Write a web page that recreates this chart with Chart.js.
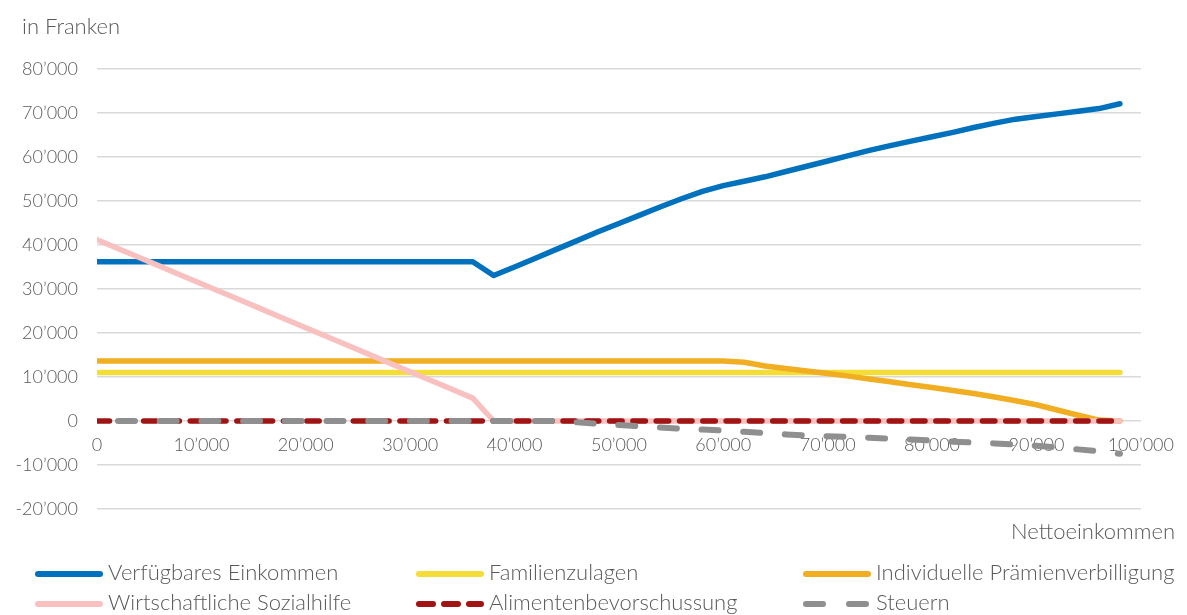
<!DOCTYPE html>
<html lang="de">
<head>
<meta charset="utf-8">
<title>Verfügbares Einkommen nach Nettoeinkommen</title>
<script src="https://cdn.jsdelivr.net/npm/chart.js@4/dist/chart.umd.min.js"></script>
<style>
  html, body { margin: 0; padding: 0; background: #ffffff; }
  #wrap { width: 1187px; height: 615px; position: relative; }
</style>
</head>
<body>
<div id="wrap"><canvas id="chart" width="1187" height="615"></canvas></div>
<script>
// Nettoeinkommen (Franken), in Schritten von 2'000
const incomes = [
  0, 2000, 4000, 6000, 8000, 10000, 12000, 14000, 16000, 18000,
  20000, 22000, 24000, 26000, 28000, 30000, 32000, 34000, 36000, 38000,
  40000, 42000, 44000, 46000, 48000, 50000, 52000, 54000, 56000, 58000,
  60000, 62000, 64000, 66000, 68000, 70000, 72000, 74000, 76000, 78000,
  80000, 82000, 84000, 86000, 88000, 90000, 92000, 94000, 96000, 98000
];

const verfuegbaresEinkommen = [
  36200, 36200, 36200, 36200, 36200, 36200, 36200, 36200, 36200, 36200,
  36200, 36200, 36200, 36200, 36200, 36200, 36200, 36200, 36200, 33050,
  35000, 37000, 39000, 41000, 43000, 44900, 46800, 48700, 50500, 52200,
  53500, 54500, 55500, 56700, 57900, 59100, 60300, 61500, 62600, 63600,
  64600, 65600, 66700, 67700, 68600, 69200, 69800, 70400, 71000, 72100
];

const familienzulagen = [
  11000, 11000, 11000, 11000, 11000, 11000, 11000, 11000, 11000, 11000,
  11000, 11000, 11000, 11000, 11000, 11000, 11000, 11000, 11000, 11000,
  11000, 11000, 11000, 11000, 11000, 11000, 11000, 11000, 11000, 11000,
  11000, 11000, 11000, 11000, 11000, 11000, 11000, 11000, 11000, 11000,
  11000, 11000, 11000, 11000, 11000, 11000, 11000, 11000, 11000, 11000
];

const praemienverbilligung = [
  13650, 13650, 13650, 13650, 13650, 13650, 13650, 13650, 13650, 13650,
  13650, 13650, 13650, 13650, 13650, 13650, 13650, 13650, 13650, 13650,
  13650, 13650, 13650, 13650, 13650, 13650, 13650, 13650, 13650, 13650,
  13650, 13350, 12500, 11950, 11350, 10800, 10200, 9550, 8900, 8250,
  7600, 6950, 6250, 5450, 4600, 3700, 2500, 1300, 200, 0
];

const sozialhilfe = [
  41200, 39200, 37200, 35200, 33200, 31200, 29200, 27200, 25200, 23200,
  21200, 19200, 17200, 15200, 13200, 11200, 9200, 7200, 5200, 0,
  0, 0, 0, 0, 0, 0, 0, 0, 0, 0,
  0, 0, 0, 0, 0, 0, 0, 0, 0, 0,
  0, 0, 0, 0, 0, 0, 0, 0, 0, 0
];

const alimentenbevorschussung = [
  0, 0, 0, 0, 0, 0, 0, 0, 0, 0,
  0, 0, 0, 0, 0, 0, 0, 0, 0, 0,
  0, 0, 0, 0, 0, 0, 0, 0, 0, 0,
  0, 0, 0, 0, 0, 0, 0, 0, 0, 0,
  0, 0, 0, 0, 0, 0, 0, 0, 0, 0
];

const steuern = [
  0, 0, 0, 0, 0, 0, 0, 0, 0, 0,
  0, 0, 0, 0, 0, 0, 0, 0, 0, 0,
  0, 0, 0, -300, -650, -900, -1200, -1500, -1750, -1950,
  -2150, -2450, -2750, -3050, -3300, -3450, -3600, -3800, -4000, -4200,
  -4450, -4700, -4900, -5100, -5350, -5650, -6000, -6450, -6900, -7450
];

const seriesLabels = [
  'Verfügbares Einkommen',
  'Familienzulagen',
  'Individuelle Prämienverbilligung',
  'Wirtschaftliche Sozialhilfe',
  'Alimentenbevorschussung',
  'Steuern'
];

const xTicks = [0, 10000, 20000, 30000, 40000, 50000, 60000, 70000, 80000, 90000, 100000];
const yTicks = [-20000, -10000, 0, 10000, 20000, 30000, 40000, 50000, 60000, 70000, 80000];

const yAxisTitle = 'in Franken';
const xAxisTitle = 'Nettoeinkommen';

// ---- styling ----
const FONT = 'Lato, "DejaVu Sans", sans-serif';
const TEXT = '#595959';
const GRID = '#d9d9d9';
const LABEL_FONT = '300 22px ' + FONT;
const TICK_FONT = { family: FONT, size: 18, weight: '300' };

function fmt(v) {
  const s = String(Math.abs(v)).replace(/\B(?=(\d{3})+(?!\d))/g, '\u2019');
  return (v < 0 ? '-' : '') + s;
}

function points(values) {
  return values.map((v, i) => ({ x: incomes[i], y: v }));
}

const colors = ['#0071bc', '#f3dd36', '#f1ae22', '#f9c0c0', '#a01414', '#8f8f8f'];
const widths = [5.5, 5.5, 5.5, 5.5, 5.5, 6];
const dashes = [[], [], [], [], [12.5, 10.8], [17, 24.7]];
const dashOffsets = [0, 0, 0, 0, 0, 20.7];
const legendDashes = [[], [], [], [], [14, 11], [17, 26]];
const seriesValues = [
  verfuegbaresEinkommen, familienzulagen, praemienverbilligung,
  sozialhilfe, alimentenbevorschussung, steuern
];

const datasets = seriesValues.map((vals, i) => ({
  label: seriesLabels[i],
  data: points(vals),
  borderColor: colors[i],
  backgroundColor: colors[i],
  borderWidth: widths[i],
  borderDash: dashes[i],
  borderDashOffset: dashOffsets[i],
  borderCapStyle: 'round',
  borderJoinStyle: 'round',
  pointRadius: 0,
  pointHoverRadius: 0,
  tension: 0,
  fill: false,
  // later series are painted on top
  order: seriesValues.length - i
}));

// Axis titles and the three-column legend underneath the plot
const annotations = {
  id: 'annotations',
  afterDraw(chart) {
    const ctx = chart.ctx;
    ctx.save();
    ctx.fillStyle = TEXT;
    ctx.font = LABEL_FONT;
    ctx.textBaseline = 'middle';
    ctx.textAlign = 'left';
    ctx.fillText(yAxisTitle, 22, 27);
    ctx.textAlign = 'right';
    ctx.fillText(xAxisTitle, 1175, 532);

    const colX = [35, 416, 803];
    const rowY = [574, 604];
    const lineLen = 68;
    chart.data.datasets.forEach((ds, i) => {
      const x = colX[i % 3];
      const y = rowY[Math.floor(i / 3)];
      ctx.save();
      ctx.strokeStyle = ds.borderColor;
      ctx.lineWidth = 6;
      ctx.lineCap = 'round';
      ctx.setLineDash(legendDashes[i]);
      ctx.beginPath();
      ctx.moveTo(x + 3, y);
      ctx.lineTo(x + lineLen - 3, y);
      ctx.stroke();
      ctx.restore();
      ctx.fillStyle = TEXT;
      ctx.textAlign = 'left';
      ctx.textBaseline = 'middle';
      ctx.fillText(ds.label, x + lineLen + 5, y - 1);
    });
    ctx.restore();
  }
};

new Chart(document.getElementById('chart'), {
  type: 'line',
  data: { datasets },
  plugins: [annotations],
  options: {
    responsive: false,
    animation: false,
    events: [],
    layout: { padding: { left: 0, right: 46, top: 69, bottom: 106 } },
    plugins: {
      legend: { display: false },
      tooltip: { enabled: false },
      title: { display: false }
    },
    scales: {
      x: {
        type: 'linear',
        min: 0,
        max: 100000,
        position: { y: 0 },
        afterBuildTicks(scale) { scale.ticks = xTicks.map(v => ({ value: v })); },
        ticks: {
          callback: v => fmt(v),
          color: TEXT,
          font: TICK_FONT,
          padding: 13,
          maxRotation: 0,
          autoSkip: false
        },
        grid: { display: false, drawTicks: false },
        border: { display: false }
      },
      y: {
        type: 'linear',
        min: -20000,
        max: 80000,
        afterBuildTicks(scale) { scale.ticks = yTicks.map(v => ({ value: v })); },
        afterFit(scale) { scale.width = 97; },
        ticks: {
          callback: v => fmt(v),
          color: TEXT,
          font: TICK_FONT,
          padding: 19
        },
        grid: { color: GRID, lineWidth: 1.5, drawTicks: false },
        border: { display: false }
      }
    }
  }
});
</script>
</body>
</html>
